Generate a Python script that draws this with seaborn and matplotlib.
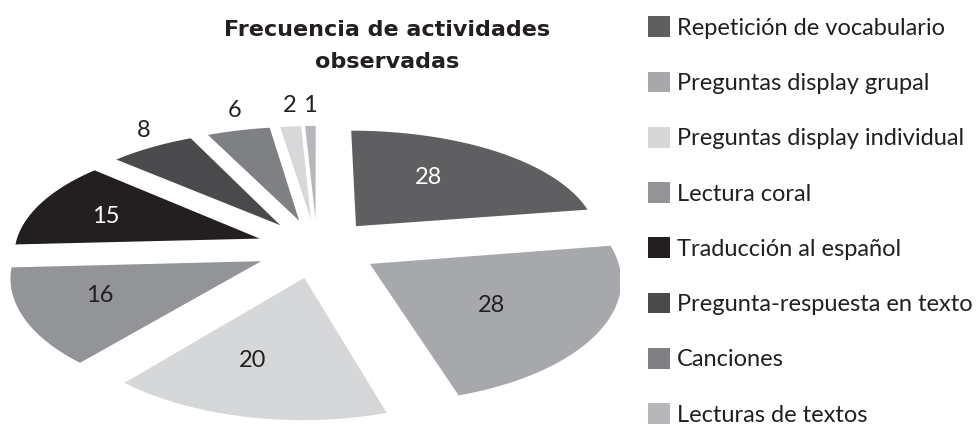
import numpy as np
import matplotlib
matplotlib.use("Agg")
import matplotlib.pyplot as plt
from matplotlib.patches import Polygon, Patch
from matplotlib.colors import to_rgb
import seaborn as sns

# Data
values = [28, 28, 20, 16, 15, 8, 6, 2, 1]
slice_colors = ["#5f5f62", "#a7a8ab", "#d6d7d9", "#939497", "#231f20",
                "#4a4a4c", "#7f8083", "#d7d8da", "#b6b7ba"]
legend_labels = ["Repetición de vocabulario", "Preguntas display grupal",
                 "Preguntas display individual", "Lectura coral",
                 "Traducción al español", "Pregunta-respuesta en texto",
                 "Canciones", "Lecturas de textos"]
legend_colors = ["#5f5f62", "#a7a8ab", "#d6d7d9", "#939497", "#231f20",
                 "#4a4a4c", "#7f8083", "#b6b7ba"]
title = "Frecuencia de actividades\nobservadas"

# Settings
sns.set_theme(style="white")
plt.rcParams['font.family'] = ['Lato', 'DejaVu Sans']

W, H = 979, 429
RX, RY = 245, 118          # pixels per unit radius
CX, CY = 317, 248          # pie centre in pixels (from top-left)
EXPLODE = 0.25
TILT_X, TILT_Y = 0.12, 0.138
TEXT = '#231f20'


def tilt(x, y):
    """fake perspective: back of the disc shrinks, front grows"""
    return x * (1 - TILT_X * y), y * (1 - TILT_Y * y)


fig = plt.figure(figsize=(W / 100, H / 100), dpi=100)
ax = fig.add_axes([0, 0, 620 / W, 1])

wedges, _ = ax.pie(values, colors=slice_colors, startangle=90, counterclock=False,
                   explode=[EXPLODE] * len(values), wedgeprops=dict(linewidth=0))

for w, val in zip(wedges, values):
    apex = np.array(w.center)
    # rebuild the wedge outline with a fine arc, then tilt it
    th = np.deg2rad(np.linspace(w.theta1, w.theta2, 200))
    xs = np.r_[apex[0], apex[0] + w.r * np.cos(th)]
    ys = np.r_[apex[1], apex[1] + w.r * np.sin(th)]
    tx, ty = tilt(xs, ys)
    ax.add_patch(Polygon(np.column_stack([tx, ty]), closed=True,
                         facecolor=w.get_facecolor(), edgecolor='none'))
    w.set_visible(False)

    mid = np.deg2rad((w.theta1 + w.theta2) / 2)
    d = np.array([np.cos(mid), np.sin(mid)])
    r, g, b = to_rgb(w.get_facecolor())
    lum = 0.299 * r + 0.587 * g + 0.114 * b
    if val >= 15:
        px, py = tilt(*(apex + 0.62 * d))
        ax.annotate(str(val), (px, py), xytext=(-12, 0), textcoords='offset points',
                    ha='center', va='center', fontsize=17,
                    color='white' if lum < 0.45 else TEXT)
    else:
        px, py = tilt(*(apex + 1.0 * d))
        ax.annotate(str(val), (px, py), xytext=(15 * d[0] * 0.6, 15 * d[1]),
                    textcoords='offset points', ha='center', va='center',
                    fontsize=17, color=TEXT)

ax.set_aspect('auto')
ax.set_xlim(-CX / RX, (620 - CX) / RX)
ax.set_ylim(-(H - CY) / RY, CY / RY)
ax.axis('off')

fig.text(387 / W, 1 - 46 / H, title, ha='center', va='center', fontsize=16,
         fontweight='bold', color=TEXT, linespacing=1.72, family='DejaVu Sans')

handles = [Patch(facecolor=c, edgecolor='none') for c in legend_colors]
fig.legend(handles, legend_labels, loc='upper left', bbox_to_anchor=(639 / W, 1 - 7 / H),
           frameon=False, fontsize=17, handlelength=0.92, handleheight=0.97,
           handletextpad=0.3, labelspacing=1.39, borderaxespad=0, labelcolor=TEXT)

plt.savefig("out.png", dpi=100)
plt.close()
